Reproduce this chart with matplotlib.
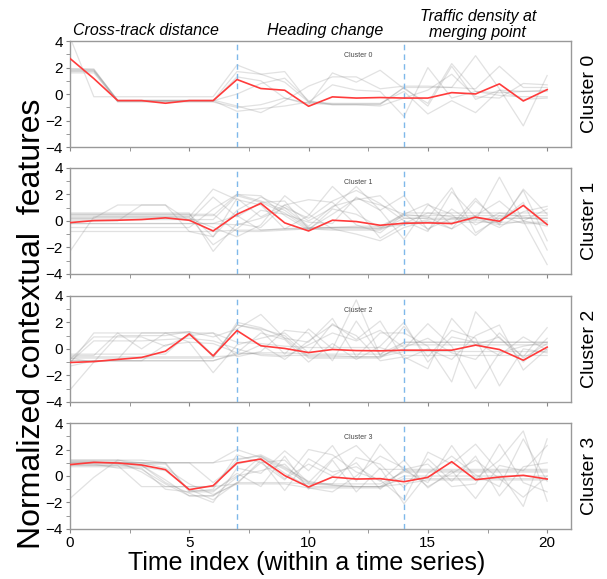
import numpy as np
import matplotlib
matplotlib.use("Agg")
import matplotlib.pyplot as plt
from matplotlib.ticker import MultipleLocator

plt.rcParams['font.family'] = ['Liberation Sans', 'DejaVu Sans']

t = list(range(21))

# cluster means (red)
mean0 = [2.69, 1.17, -0.49, -0.49, -0.69, -0.49, -0.49, 1.1, 0.42, 0.29, -0.92,
         -0.21, -0.3, -0.26, -0.3, -0.3, 0.11, 0.01, 0.77, -0.52, 0.34]
mean1 = [-0.13, 0.02, 0.05, 0.1, 0.23, 0.05, -0.76, 0.5, 1.32, -0.15, -0.76,
         0.05, -0.05, -0.33, -0.18, -0.15, -0.2, 0.28, -0.03, 1.17, -0.28]
mean2 = [-1.03, -0.96, -0.8, -0.65, -0.18, 1.13, -0.53, 1.38, 0.23, 0.03, -0.28,
         -0.05, -0.13, -0.15, -0.1, -0.1, -0.1, 0.28, -0.05, -0.86, 0.13]
mean3 = [0.86, 1.03, 0.98, 0.83, 0.48, -1.03, -0.73, 0.98, 1.28, 0.03, -0.83,
         -0.08, -0.23, -0.2, -0.43, -0.1, 1.08, -0.28, -0.08, 0.05, -0.23]

# individual series (gray)
gray0 = [
    [4.3, -0.2, -0.2, -0.2, -0.2, -0.2, -0.2, 2.2, 1.5, 0.9, -0.6, -0.75, -0.75, -0.75, 0.5, -0.9, 2.1, -0.4, 0.3, 0.2, 0.3],
    [1.9, 1.85, -0.5, -0.5, -0.5, -0.5, -0.5, 1.7, 1.5, 1.7, -0.6, 0.7, 0.3, 0.2, -1.7, 2.0, -0.3, 0.2, 0.1, 0.2, 0.2],
    [1.6, 1.6, -0.55, -0.55, -0.55, -0.55, -0.55, 1.3, 1.0, -0.3, -0.8, 1.6, 0.9, 1.8, 0.4, -0.7, 2.3, 0.2, -0.1, -0.2, -0.2],
    [1.8, 1.8, -0.45, -0.45, -0.45, -0.45, -0.45, -0.9, -1.4, -0.5, 0.6, 1.3, 1.3, 0.4, 0.6, 0.6, 0.5, 2.9, 0.4, -2.4, 1.4],
    [1.7, 1.7, -0.6, -0.6, -0.6, -0.6, -0.6, -1.0, -0.8, -0.3, -0.7, -0.8, -0.8, -0.8, 0.5, 0.5, 0.5, 0.4, 2.1, 0.5, 0.5],
    [1.75, 1.75, -0.5, -0.5, -0.5, -0.5, -0.5, -1.3, -1.1, -0.9, -0.6, -0.7, -0.7, -0.7, 0.2, -1.5, -0.5, -1.4, 0.3, -0.4, -0.3],
    [1.9, 1.9, -0.5, -0.5, -0.5, -0.5, -0.5, 0.0, 0.8, 1.2, -0.5, -0.8, -0.8, -0.9, -0.3, 0.3, 1.5, -0.2, -0.3, 0.8, 0.7],
]
gray1 = [
    [0.5, 0.5, 0.5, 0.5, 0.5, 0.5, 0.5, -0.8, -0.8, -0.7, -0.6, -0.6, -0.6, -0.6, 0.6, 0.6, 0.6, 0.6, 0.6, 0.6, 0.6],
    [0.4, 0.4, 0.4, 0.4, 0.4, 0.4, 0.4, 2.0, 1.5, 0.8, -0.5, -0.5, -0.5, -0.5, 0.4, 0.4, 0.4, 0.4, 0.4, 0.4, 0.4],
    [0.1, 0.1, 0.1, 0.1, 0.1, 0.1, 0.1, 1.9, 1.4, 0.6, -0.6, -0.5, -0.5, -0.6, -0.1, -0.1, -0.1, -0.1, -0.1, -0.1, -0.1],
    [-0.2, -0.2, -0.2, -0.2, -0.2, -0.2, -0.2, -0.3, 0.2, 1.0, -0.4, 1.1, 1.6, 1.9, 0.2, 0.2, 2.5, -0.9, 0.2, 0.2, 0.2],
    [-0.8, -0.8, -0.8, -0.8, -0.8, -0.8, -0.8, -0.7, -0.7, -0.6, -0.5, -0.5, -0.4, -0.4, 0.5, 1.3, -0.3, 1.7, -0.3, 0.0, -3.3],
    [-2.3, 0.3, 0.3, 0.3, 0.3, 0.3, 2.4, 1.6, 1.2, -0.6, 0.4, 2.6, 0.9, -1.3, -0.2, 0.6, 0.3, 0.0, 3.3, 0.0, 0.9],
    [0.2, 0.2, 1.2, 1.2, 1.2, -0.8, -1.2, 0.8, 1.8, 1.0, 0.2, 1.5, 2.3, 1.3, 0.0, -0.8, 2.2, 0.3, -0.2, 2.3, -1.5],
    [0.0, 0.0, 0.0, 1.2, 1.2, 0.0, 1.8, 0.3, 1.4, 1.5, -0.6, 0.5, 1.7, 1.2, 0.5, 0.3, -0.6, 1.5, 0.0, 1.4, -2.2],
    [0.3, 0.3, 0.3, 0.3, 0.3, 0.3, -1.8, -0.6, 0.8, 0.5, -0.1, -0.2, 1.8, 0.8, -1.4, 1.2, 0.5, -1.1, 0.4, -0.2, -0.2],
    [0.6, 0.6, 0.6, 0.6, 0.6, 0.6, -2.3, -0.2, -0.5, 1.2, 1.6, 1.4, -0.3, -0.9, 0.5, -0.6, 0.2, 0.3, -0.5, 0.7, 1.1],
    [-0.5, -0.5, -0.5, -0.5, -0.5, -0.5, 0.9, 2.0, 1.9, 0.4, -0.7, 0.9, 0.5, -0.5, -0.3, 0.1, 0.1, 0.1, -0.3, 2.4, 0.5],
    [0.2, 0.2, 0.2, 0.2, 0.2, 0.2, -0.5, -1.2, -0.3, 1.9, 0.5, -0.6, -1.0, -1.5, -0.5, 0.0, -0.6, 0.4, 1.5, 0.0, -0.4],
    [0.5, 0.5, 0.5, 0.5, 0.5, 0.5, -1.2, 1.7, 0.3, 1.2, 0.0, 1.0, 2.6, 0.8, 1.9, -0.7, 0.9, -0.3, 0.6, 0.3, 0.0],
    [-0.2, -0.2, -0.2, -0.2, -0.2, -0.2, -0.2, 0.4, -0.7, -0.6, -0.6, -0.7, -0.7, -0.7, 0.2, 0.2, 0.2, 0.2, 0.2, 0.2, 0.2],
]
gray2 = [
    [-0.7, -0.7, -0.7, -0.7, -0.7, -0.7, -0.7, 2.0, 1.6, 0.8, -0.7, -0.7, -0.7, -0.7, 0.5, 0.5, 0.5, 0.5, 0.5, 0.5, 0.5],
    [-0.6, -0.6, -0.6, -0.6, -0.6, -0.6, -0.6, 1.8, 1.5, 1.0, -0.6, -0.6, -0.6, -0.6, 0.3, 0.3, 0.3, 0.3, 0.3, 0.3, 0.3],
    [-0.9, -0.9, -0.9, -0.9, -0.9, -0.9, -0.9, -0.3, -0.4, -0.5, -0.5, -0.5, -0.6, -0.6, -0.2, -0.2, -0.2, -0.2, -0.2, -0.2, -0.2],
    [-3.1, -1.0, -0.8, 1.2, 1.2, 1.2, 1.2, 0.5, 0.4, 0.2, 0.1, 0.1, 0.1, 0.1, -0.5, -0.5, -0.5, -0.5, -0.5, -0.5, -0.5],
    [-1.1, 1.2, 1.2, 1.2, 1.2, 1.3, 0.9, 1.5, 2.6, 0.8, 0.5, 2.3, -0.6, 1.2, 1.2, 0.2, -2.5, 2.8, 0.8, -0.6, 1.6],
    [-0.7, -1.0, 1.0, 1.0, 1.0, 1.3, -0.5, 1.8, 1.4, -0.4, 1.5, 0.0, 3.7, -0.5, 0.0, 1.9, 0.2, -3.0, -0.3, 0.2, 0.5],
    [-0.5, -0.5, 1.2, 0.0, 1.2, 0.5, -1.8, 0.3, 0.8, 1.2, -0.3, 1.9, 0.7, 2.1, -0.8, 0.0, -0.8, 1.0, 1.8, -1.6, 0.0],
    [-0.8, 0.9, 0.9, 0.9, 0.2, 1.0, 1.2, -0.6, -0.2, 1.4, 1.2, -0.9, 2.1, -0.5, 1.7, -0.6, 1.4, 0.8, -2.8, 0.0, -0.3],
    [-1.0, 0.6, 0.6, 0.6, 0.7, 0.8, 0.6, 0.0, -0.5, -0.6, 0.3, 1.2, 0.6, 1.4, 0.1, 0.8, -0.3, -0.8, 1.2, -0.7, 0.4],
    [-1.3, -0.9, -0.9, -0.9, 0.3, 0.5, 0.4, -0.3, 1.2, 0.7, -1.0, 0.4, -0.8, 0.2, 2.0, -1.0, 0.9, 0.5, -0.5, 0.9, -0.1],
    [-0.4, -0.4, -0.4, -0.4, -0.4, 1.2, -0.6, -0.5, 0.3, -0.8, 0.6, 1.8, 1.0, -0.9, -0.6, -1.5, 2.3, 0.3, 0.9, -1.0, 0.8],
    [-0.9, -0.9, -0.9, -0.9, -0.9, -0.9, -0.9, -0.4, -0.3, -0.3, -0.4, -0.4, -0.4, -0.4, 0.5, 0.5, 0.5, 0.5, 0.5, 0.5, 0.5],
]
gray3 = [
    [1.0, 1.0, 1.0, 1.0, 1.0, 1.0, 1.0, 2.0, 1.4, 0.5, -0.6, -0.6, -0.6, -0.6, 0.3, 0.3, 0.3, 0.3, 0.3, 0.3, 0.3],
    [1.1, 1.1, 1.1, 0.3, -0.8, -0.8, -0.8, -0.6, -0.6, -0.6, -0.9, -0.9, -0.9, -0.9, 0.0, 0.0, 0.0, 0.0, 0.0, 0.0, 0.0],
    [0.9, 0.9, 0.9, 0.5, -0.6, -1.5, -1.5, -0.1, 1.5, 0.6, -0.4, -0.7, -0.8, -0.8, -0.6, -0.3, -0.3, -0.3, -0.3, -0.3, -0.3],
    [0.8, 0.8, 0.8, -0.8, -0.8, -0.8, -0.8, 1.2, 1.6, 0.7, -0.5, 1.3, 2.3, 0.5, 0.5, 0.5, 0.5, 0.5, 0.5, 0.5, 0.5],
    [-1.7, -0.1, 1.2, 1.2, 1.0, -1.2, -1.0, 1.6, 1.0, -0.3, 2.0, 1.6, 0.3, -0.3, -1.8, 1.8, 0.9, 2.4, 0.3, -2.3, 2.8],
    [1.2, 1.2, 1.2, 0.8, -0.5, -1.3, -2.0, 0.6, 0.2, 1.9, 0.4, 2.3, -0.4, 2.4, 0.4, -0.5, 2.3, -0.2, 1.2, 3.4, -1.9],
    [0.7, 0.7, 0.7, 0.7, 0.4, -1.0, -1.8, -0.5, 1.0, 1.2, -0.5, -0.6, 1.4, 0.9, -0.9, 1.3, -0.4, 1.5, -1.5, 0.7, 1.0],
    [1.0, 1.0, 1.0, 1.0, 1.0, 1.0, -0.5, 0.9, 1.3, -0.2, 0.9, 0.0, 1.0, -1.0, 0.5, 0.9, -0.8, -0.6, 2.4, -0.5, -1.2],
    [0.9, 0.9, 0.6, 0.6, -1.0, -1.2, -1.2, 0.2, -0.8, 1.5, -1.0, 1.2, -1.2, 0.6, -2.1, 0.2, 1.5, 0.1, -0.8, 2.8, -0.4],
    [1.2, 1.2, 1.2, 1.0, 0.6, -0.6, -1.4, -0.6, 1.2, -1.1, 1.3, 0.3, 0.7, -0.4, 1.2, -0.9, 0.4, -1.7, 0.8, 0.4, 2.3],
    [1.1, 1.1, 0.9, 0.9, 0.9, -1.1, -1.1, 0.0, 0.4, 0.9, -0.9, -1.2, 0.0, 1.5, 0.6, -0.8, 0.2, 1.2, -0.2, -1.6, 0.0],
    [1.0, 1.0, 1.0, 1.0, 1.0, 1.0, 1.0, 1.3, 1.5, 0.2, -0.8, -0.8, -0.8, -0.8, 0.4, 0.4, 0.4, 0.4, 0.4, 0.4, 0.4],
    [0.8, 0.8, 0.8, 0.8, -0.3, -1.5, -1.5, -0.5, -0.5, -0.5, -0.6, -0.7, -0.8, -0.8, -0.2, -0.2, -0.2, -0.2, -0.2, -0.2, -0.2],
]

means = [mean0, mean1, mean2, mean3]
grays = [gray0, gray1, gray2, gray3]
names = ['Cluster 0', 'Cluster 1', 'Cluster 2', 'Cluster 3']
borders = [7, 14]

fig = plt.figure(figsize=(6.07, 5.79), dpi=100)
bottoms = [0.746, 0.527, 0.306, 0.0864]
for k in range(4):
    ax = fig.add_axes([0.1153, bottoms[k], 0.8254, 0.183])
    for g in grays[k]:
        ax.plot(t, g, color='#8a8a8a', alpha=0.25, lw=0.9)
    ax.plot(t, means[k], color='#ff3b3b', lw=1.2, zorder=5)
    for b in borders:
        ax.axvline(b, color='#7fb8ea', lw=1.0, ls=(0, (4, 3)), zorder=4)
    ax.set_xlim(0, 21)
    ax.set_ylim(-4, 4)
    ax.yaxis.set_major_locator(MultipleLocator(2))
    ax.yaxis.set_minor_locator(MultipleLocator(1))
    ax.xaxis.set_major_locator(MultipleLocator(5))
    ax.xaxis.set_minor_locator(MultipleLocator(2.5))
    ax.tick_params(which='both', direction='out', colors='#888888', labelcolor='black',
                   labelsize=11, pad=2, length=3)
    for s in ax.spines.values():
        s.set_color('#999999')
        s.set_linewidth(1.0)
    ax.text(12.1, 2.9, names[k], fontsize=5, color='#444444', ha='center', va='center')
    ax.text(1.02, 0.5, names[k], transform=ax.transAxes, rotation=90,
            fontsize=14, ha='left', va='center')
    if k < 3:
        ax.set_xticklabels([])

fig.text(0.24, 0.948, 'Cross-track distance', style='italic', fontsize=11.5, ha='center', va='center')
fig.text(0.535, 0.948, 'Heading change', style='italic', fontsize=11.5, ha='center', va='center')
fig.text(0.787, 0.958, 'Traffic density at\nmerging point', style='italic', fontsize=11.5,
         ha='center', va='center', linespacing=1.1)

fig.text(0.052, 0.44, 'Normalized contextual  features', rotation=90, fontsize=23,
         ha='center', va='center')
fig.text(0.505, 0.027, 'Time index (within a time series)', fontsize=18,
         ha='center', va='center')

fig.savefig('out.png', dpi=100)
